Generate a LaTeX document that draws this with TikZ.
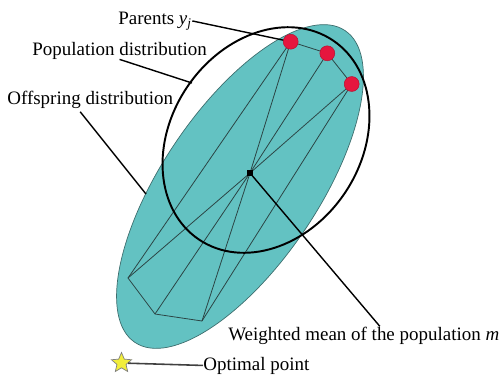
\documentclass[tikz,border=0pt]{standalone}
\usepackage{fontspec}
\setmainfont{Liberation Serif}
\usepackage{tikz}
\usetikzlibrary{arrows.meta,calc,positioning,shapes.geometric}
\definecolor{es-teal}{HTML}{63C2C2}
\definecolor{es-edge}{HTML}{3E6E6E}
\definecolor{es-red}{HTML}{E6163E}
\definecolor{es-star}{HTML}{F2EE3A}
\definecolor{es-line}{HTML}{2B4444}

\begin{document}
\begin{tikzpicture}[x=0.02cm,y=-0.02cm,font=\fontsize{10.8}{13}\selectfont,
  lbl/.style={inner sep=0pt,anchor=base west},
  pointerline/.style={line width=0.8pt,black},
  samplelink/.style={line width=0.45pt,es-line},
  parentdot/.style={circle,fill=es-red,draw=es-red!80!black,line width=0.3pt,inner sep=0pt,minimum size=8.5pt}]
  \useasboundingbox (0,0) rectangle (500,376);

  % Fordelingen af afkom
  \filldraw[fill=es-teal,draw=es-edge,line width=0.4pt,rotate around={56:(240,186.5)}]
    (240,186.5) ellipse[x radius=188,y radius=78];

  % Punkterne
  \coordinate (m) at (250,173);
  \coordinate (y1) at (290.7,41.7);
  \coordinate (y2) at (327.3,53.3);
  \coordinate (y3) at (351.7,84);
  \coordinate (z1) at (128,278);
  \coordinate (z2) at (155,314);
  \coordinate (z3) at (202,321);

  % Linjer mellem punkterne
  \draw[samplelink] (y1) -- (y2) -- (y3);
  \draw[samplelink] (z1) -- (z2) -- (z3);
  \foreach \p in {y1,y2,y3,z1,z2,z3}
    \draw[samplelink] (m) -- (\p);
  \draw[samplelink] (z1) -- (y1);
  \draw[samplelink] (z3) -- (y3);

  % Populationsfordeling
  \draw[line width=1.1pt,rotate around={56:(266,140)}]
    (266,140) ellipse[x radius=120,y radius=95];

  % Tekster
  \node[lbl] (parents) at (118,24.3) {Parents \textit{y}\textsubscript{\textit{j}}};
  \node[lbl] (popdist) at (32,55) {Population distribution};
  \node[lbl] (offdist) at (7,104.3) {Offspring distribution};
  \node[lbl] (wmean) at (228,340) {Weighted mean of the population \textit{m}};
  \node[lbl] (optimal) at (203,370) {Optimal point};

  % Henvisningslinjer
  \coordinate (popend) at (192,83);
  \coordinate (offend) at (146,194);
  \draw[pointerline] (parents.east) -- (y1);
  \draw[pointerline] (popdist.south) -- (popend);
  \draw[pointerline] ($(offdist.south)+(-10,3)$) -- (offend);
  \draw[pointerline] (m) -- ($(wmean.north)+(16,0)$);

  % Middelpunkt og foraeldre
  \node[fill=black,inner sep=0pt,minimum size=3.5pt] (mean) at (m) {};
  \foreach \i in {1,2,3}
    \node[parentdot] (dot\i) at (y\i) {};

  % Optimum
  \node[star,star points=5,star point ratio=2.2,fill=es-star,draw=gray,line width=0.4pt,
    inner sep=0pt,minimum size=12pt] (opt) at (121.5,363) {};
  \draw[line width=0.9pt,black!75] (opt) -- (optimal.west);
\end{tikzpicture}
\end{document}
